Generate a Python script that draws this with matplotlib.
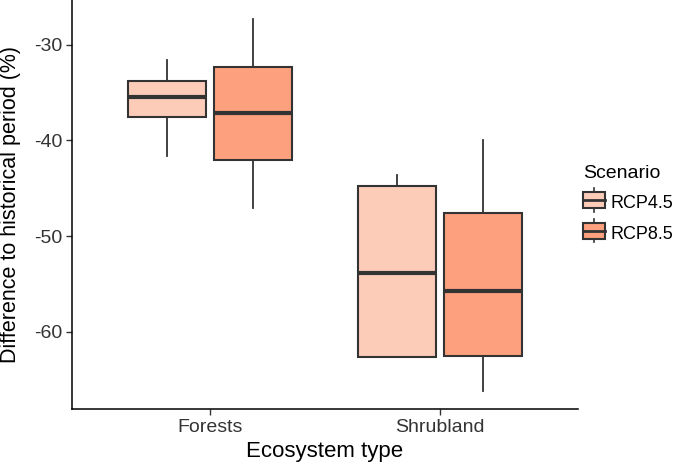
import matplotlib
matplotlib.use('Agg')
import matplotlib.pyplot as plt
from matplotlib.patches import Rectangle, Patch
from matplotlib.lines import Line2D
from matplotlib.legend_handler import HandlerBase

plt.rcParams['font.family'] = ['Liberation Sans', 'DejaVu Sans']
plt.rcParams['axes.unicode_minus'] = False

# data
categories = ['Forests', 'Shrubland']
scenarios = ['RCP4.5', 'RCP8.5']
colors = ['#FDCCB8', '#FCA07E']

# per scenario, one value per category
whislo = {'RCP4.5': [-41.6, -62.7], 'RCP8.5': [-47.1, -66.2]}
q1 = {'RCP4.5': [-37.5, -62.7], 'RCP8.5': [-42.0, -62.6]}
med = {'RCP4.5': [-35.4, -53.9], 'RCP8.5': [-37.1, -55.8]}
q3 = {'RCP4.5': [-33.8, -44.8], 'RCP8.5': [-32.3, -47.6]}
whishi = {'RCP4.5': [-31.6, -43.6], 'RCP8.5': [-27.3, -39.9]}

edge = '#333333'
offsets = [-0.187, 0.187]
box_w = 0.34

fig = plt.figure(figsize=(6.85, 4.65), dpi=100)
ax = fig.add_axes([0.105, 0.1204, 0.7388, 0.8796])

for s, sc in enumerate(scenarios):
    stats = []
    for c in range(len(categories)):
        stats.append({'whislo': whislo[sc][c], 'q1': q1[sc][c], 'med': med[sc][c],
                      'q3': q3[sc][c], 'whishi': whishi[sc][c], 'fliers': []})
    pos = [c + 1 + offsets[s] for c in range(len(categories))]
    ax.bxp(stats, positions=pos, widths=box_w, patch_artist=True, showcaps=False,
           boxprops=dict(facecolor=colors[s], edgecolor=edge, linewidth=1.5),
           whiskerprops=dict(color=edge, linewidth=1.3),
           medianprops=dict(color=edge, linewidth=3, solid_capstyle='butt'),
           manage_ticks=False, zorder=3)

ax.set_xlim(0.4, 2.6)
ax.set_ylim(-68.1, -25.3)
ax.set_xticks([1, 2])
ax.set_xticklabels(categories)
ax.set_yticks([-30, -40, -50, -60])
ax.set_yticklabels(['-30', '-40', '-50', '-60'])
ax.tick_params(labelsize=14, length=4, width=1, color=edge, labelcolor='#333333', pad=3)
for side in ['top', 'right']:
    ax.spines[side].set_visible(False)
for side in ['left', 'bottom']:
    ax.spines[side].set_linewidth(1.1)
    ax.spines[side].set_color('black')
ax.set_xlabel('Ecosystem type', fontsize=16, labelpad=4)
ax.set_ylabel('Difference to historical period (%)', fontsize=15.5, labelpad=9)


class BoxHandler(HandlerBase):
    def create_artists(self, legend, orig_handle, xdescent, ydescent, width, height, fontsize, trans):
        x0, y0 = -xdescent, -ydescent
        h = height + ydescent
        xc = x0 + width / 2
        rect = Rectangle((x0, y0 + h * 0.16), width, h * 0.68,
                         facecolor=orig_handle.get_facecolor(), edgecolor=edge,
                         linewidth=1.5, transform=trans)
        m = Line2D([x0, x0 + width], [y0 + h / 2] * 2, color=edge, lw=2, transform=trans)
        w1 = Line2D([xc, xc], [y0, y0 + h * 0.16], color=edge, lw=1.2, transform=trans)
        w2 = Line2D([xc, xc], [y0 + h * 0.84, y0 + h], color=edge, lw=1.2, transform=trans)
        return [w1, w2, rect, m]


handles = [Patch(facecolor=colors[i], label=scenarios[i]) for i in range(len(scenarios))]
leg = fig.legend(handles=handles, title='Scenario', loc='center left',
                 bbox_to_anchor=(0.851, 0.562), frameon=False, fontsize=13,
                 title_fontsize=14, handler_map={Patch: BoxHandler()},
                 handlelength=1.2, handleheight=1.3, handletextpad=0.3,
                 labelspacing=0.58, borderpad=0, borderaxespad=0, alignment='left')

fig.savefig('out.png', dpi=100)
